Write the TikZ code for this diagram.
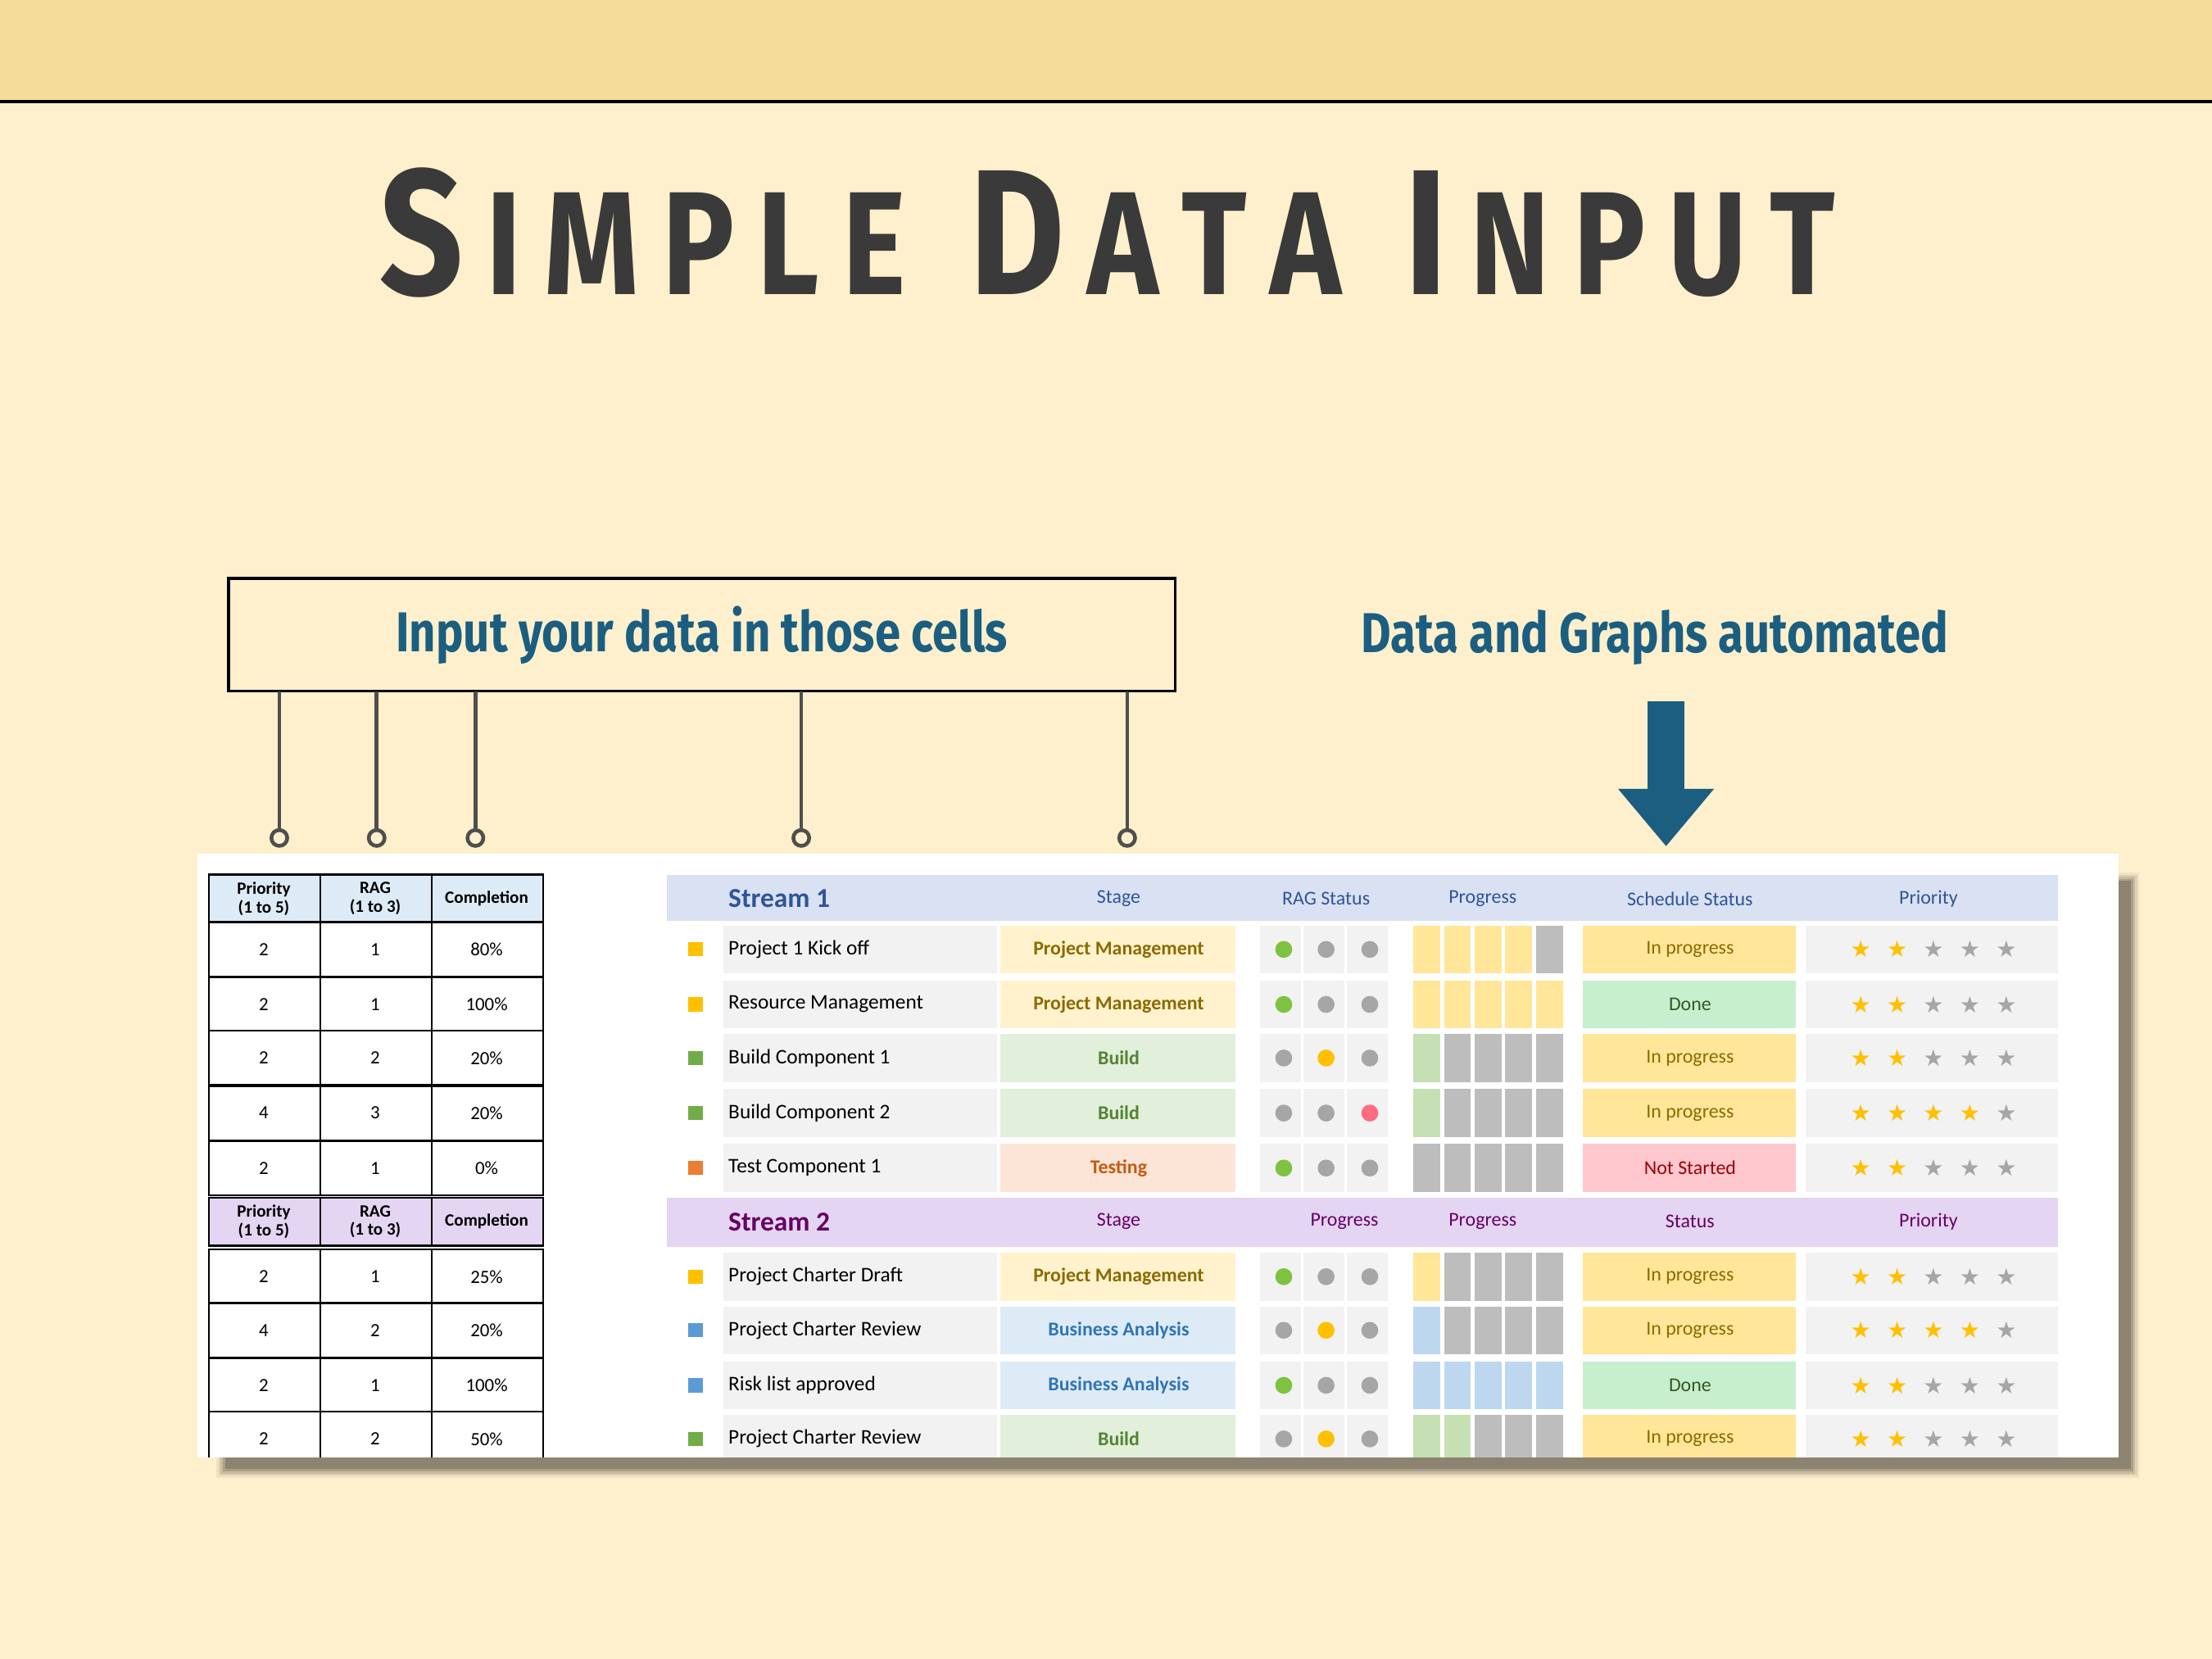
\documentclass[tikz,border=0pt]{standalone}
\usepackage{fontspec}
\setmainfont{Carlito}
\newfontfamily\ttlfont[FakeStretch=0.82]{Fira Sans}
\newfontfamily\symfont{DejaVu Sans}
\usetikzlibrary{arrows.meta}
\definecolor{bg}{HTML}{FEF0CC}
\definecolor{band}{HTML}{F5DC98}
\definecolor{ttl}{HTML}{3A3A3A}
\definecolor{navy}{HTML}{1B5E80}
\definecolor{hblue}{HTML}{D9E1F2}
\definecolor{hlav}{HTML}{E4D5F2}
\definecolor{cellg}{HTML}{F2F2F2}
\definecolor{yel}{HTML}{FFC000}
\definecolor{grn}{HTML}{70AD47}
\definecolor{org}{HTML}{ED7D31}
\definecolor{blu}{HTML}{5B9BD5}
\definecolor{pmf}{HTML}{FFF2CC}\definecolor{pmt}{HTML}{8B6A00}
\definecolor{bf}{HTML}{E2EFDA}\definecolor{bt}{HTML}{548235}
\definecolor{tf}{HTML}{FCE4D6}\definecolor{tt}{HTML}{C55A11}
\definecolor{baf}{HTML}{DDEBF7}\definecolor{bat}{HTML}{2F75B5}
\definecolor{ipf}{HTML}{FFE699}\definecolor{ipt}{HTML}{8B6A00}
\definecolor{dnf}{HTML}{C6EFCE}\definecolor{dnt}{HTML}{375623}
\definecolor{nsf}{HTML}{FFC7CE}\definecolor{nst}{HTML}{9C0006}
\definecolor{rg}{HTML}{7FC241}\definecolor{ry}{HTML}{FFC000}\definecolor{rr}{HTML}{FF6B7F}\definecolor{rx}{HTML}{A6A6A6}
\definecolor{py}{HTML}{FFE699}\definecolor{pg}{HTML}{BDBDBD}\definecolor{pgr}{HTML}{C6E0B4}\definecolor{pb}{HTML}{BDD7EE}
\definecolor{hdt}{HTML}{2F5597}
\tikzset{
 cellt/.style={font=\fontsize{6.5}{7}\selectfont, text=black},
 hdr/.style={font=\bfseries\fontsize{6}{6.5}\selectfont, align=center, text=black},
 rhdr/.style={font=\fontsize{6.8}{7}\selectfont, text=hdt},
 conn/.style={draw=ttl!90, line width=1.3pt},
 pin/.style={circle, draw=ttl!90, line width=1.3pt, fill=bg, inner sep=0pt, minimum size=5.5pt},
}
\newcommand\rowA[6]{%
 \fill[#2] (488,#1-5) rectangle (498,#1+5);
 \fill[cellg] (513,#1-17) rectangle (707,#1+17);
 \node[anchor=west, inner sep=0pt, font=\fontsize{7.2}{8}\selectfont] at (516,#1) {#3};
 \fill[#4] (709,#1-17) rectangle (876,#1+17);
 \node[font=\bfseries\fontsize{6.8}{8}\selectfont, text=#5] at (793,#1) {#6};}
\newcommand\rowB[5]{%
 \foreach \xx in {893,924,955}{\fill[cellg] (\xx,#1-17) rectangle (\xx+29,#1+17);}
 \fill[#2] (910,#1) circle (6); \fill[#3] (940,#1) circle (6); \fill[#4] (971,#1) circle (6);
 \foreach \c [count=\i] in {#5}{\fill[\c] (1002+21.7*\i-21.7,#1-17) rectangle (1021+21.7*\i-21.7,#1+17);}}
\newcommand\rowC[5]{%
 \fill[#2] (1122,#1-17) rectangle (1273,#1+17);
 \node[font=\fontsize{6.8}{8}\selectfont, text=#3] at (1198,#1) {#4};
 \fill[cellg] (1280,#1-17) rectangle (1459,#1+17);
 \foreach \i in {1,...,5}{\pgfmathtruncatemacro\on{\i<=#5}
   \ifnum\on=1 \def\sc{yel}\else\def\sc{rx}\fi
   \node[font=\symfont\fontsize{8}{8}\selectfont, text=\sc] at (1319+25.8*\i-25.8,#1) {★};}}
\newcommand\lrow[4]{%
 \draw[black, line width=0.7pt, fill=white] (148,#1-19.3) rectangle (385,#1+19.3);
 \draw[black, line width=0.7pt] (227,#1-19.3) -- (227,#1+19.3) (306,#1-19.3) -- (306,#1+19.3);
 \node[cellt] at (187,#1) {#2}; \node[cellt] at (266,#1) {#3}; \node[cellt] at (345,#1) {#4};}
\newcommand\lhdr[2]{%
 \draw[black, line width=0.7pt, fill=#2] (148,#1-17) rectangle (385,#1+17);
 \draw[black, line width=0.7pt] (227,#1-17) -- (227,#1+17) (306,#1-17) -- (306,#1+17);
 \node[hdr] at (187,#1) {Priority\\(1 to 5)}; \node[hdr] at (266,#1) {RAG\\(1 to 3)}; \node[hdr] at (345,#1) {Completion};}
\newcommand\Bg[1]{{\fontsize{62}{62}\selectfont #1}}
\newcommand\Sm[1]{{\fontsize{51}{51}\selectfont #1}}
\newcommand\hs{\hspace{8pt}}
\begin{document}
\begin{tikzpicture}[x=0.017219cm, y=-0.017219cm]
\useasboundingbox (0,0) rectangle (1568,1176);
\fill[bg] (0,0) rectangle (1568,1176);
\fill[band] (0,0) rectangle (1568,72);
\draw[black, line width=1pt] (0,72) -- (1568,72);
\node[text=ttl, font=\ttlfont\bfseries] (title) at (785,165)
 {\Bg{S}\hs\Sm{I}\hs\Sm{M}\hs\Sm{P}\hs\Sm{L}\hs\Sm{E}\hspace{22pt}\Bg{D}\hs\Sm{A}\hs\Sm{T}\hs\Sm{A}\hspace{22pt}\Bg{I}\hs\Sm{N}\hs\Sm{P}\hs\Sm{U}\hs\Sm{T}};
% callout box
\node[draw=black, line width=1pt, minimum width=671*0.017219cm, minimum height=80*0.017219cm, fill=bg,
 text=navy, font=\ttlfont\bfseries\fontsize{19.5}{22}\selectfont] (box) at (497.5,450) {Input your data in those cells};
\node[text=navy, font=\ttlfont\bfseries\fontsize{19.5}{22}\selectfont] (auto) at (1173,452) {Data and Graphs automated};
\coordinate (a0) at (1181,497);
\coordinate (a1) at (1181,600);
\draw[navy, line width=13pt, -{Triangle[width=32pt,length=20pt]}] (a0) -- (a1);
% shadow + panel
\foreach \k/\o in {1/0.05,2/0.07,3/0.1,4/0.14,5/0.18}{
 \fill[black, opacity=\o] (152+\k*1.5,617+\k*1.5) rectangle (1518-\k*1.5,1049-\k*1.5);}
\fill[white] (140,605) rectangle (1502,1033);
\begin{scope}
\clip (140,605) rectangle (1502,1033);
% left table
\lhdr{637}{baf}
\lrow{673}{2}{1}{80\%}\lrow{712}{2}{1}{100\%}\lrow{750}{2}{2}{20\%}\lrow{789}{4}{3}{20\%}\lrow{828}{2}{1}{0\%}
\lhdr{866}{hlav}
\lrow{905}{2}{1}{25\%}\lrow{943}{4}{2}{20\%}\lrow{982}{2}{1}{100\%}\lrow{1020}{2}{2}{50\%}
% right table headers
\fill[hblue] (473,620) rectangle (1459,653);
\node[anchor=west, inner sep=0pt, font=\bfseries\fontsize{9.5}{10}\selectfont, text=hdt] at (516,637) {Stream 1};
\node[rhdr] at (793,637) {Stage}; \node[rhdr] at (940,637) {RAG Status}; \node[rhdr] at (1051,637) {Progress};
\node[rhdr] at (1198,637) {Schedule Status}; \node[rhdr] at (1367,637) {Priority};
\fill[hlav] (473,849) rectangle (1459,884);
\node[anchor=west, inner sep=0pt, font=\bfseries\fontsize{9.5}{10}\selectfont, text=violet!80!black] at (516,866) {Stream 2};
\node[rhdr, text=violet!80!black] at (793,866) {Stage}; \node[rhdr, text=violet!80!black] at (953,866) {Progress};
\node[rhdr, text=violet!80!black] at (1051,866) {Progress};
\node[rhdr, text=violet!80!black] at (1198,866) {Status}; \node[rhdr, text=violet!80!black] at (1367,866) {Priority};
% rows
\rowA{673}{yel}{Project 1 Kick off}{pmf}{pmt}{Project Management}\rowB{673}{rg}{rx}{rx}{py,py,py,py,pg}\rowC{673}{ipf}{ipt}{In progress}{2}
\rowA{712}{yel}{Resource Management}{pmf}{pmt}{Project Management}\rowB{712}{rg}{rx}{rx}{py,py,py,py,py}\rowC{712}{dnf}{dnt}{Done}{2}
\rowA{750}{grn}{Build Component 1}{bf}{bt}{Build}\rowB{750}{rx}{ry}{rx}{pgr,pg,pg,pg,pg}\rowC{750}{ipf}{ipt}{In progress}{2}
\rowA{789}{grn}{Build Component 2}{bf}{bt}{Build}\rowB{789}{rx}{rx}{rr}{pgr,pg,pg,pg,pg}\rowC{789}{ipf}{ipt}{In progress}{4}
\rowA{828}{org}{Test Component 1}{tf}{tt}{Testing}\rowB{828}{rg}{rx}{rx}{pg,pg,pg,pg,pg}\rowC{828}{nsf}{nst}{Not Started}{2}
\rowA{905}{yel}{Project Charter Draft}{pmf}{pmt}{Project Management}\rowB{905}{rg}{rx}{rx}{py,pg,pg,pg,pg}\rowC{905}{ipf}{ipt}{In progress}{2}
\rowA{943}{blu}{Project Charter Review}{baf}{bat}{Business Analysis}\rowB{943}{rx}{ry}{rx}{pb,pg,pg,pg,pg}\rowC{943}{ipf}{ipt}{In progress}{4}
\rowA{982}{blu}{Risk list approved}{baf}{bat}{Business Analysis}\rowB{982}{rg}{rx}{rx}{pb,pb,pb,pb,pb}\rowC{982}{dnf}{dnt}{Done}{2}
\rowA{1020}{grn}{Project Charter Review}{bf}{bt}{Build}\rowB{1020}{rx}{ry}{rx}{pgr,pgr,pg,pg,pg}\rowC{1020}{ipf}{ipt}{In progress}{2}
\end{scope}
% connectors
\foreach \xx [count=\i] in {198,267,337,568,799}{
 \coordinate (t\i) at (\xx,490);
 \node[pin] (p\i) at (\xx,594) {};
 \draw[conn] (t\i) -- (p\i);}
\end{tikzpicture}
\end{document}
